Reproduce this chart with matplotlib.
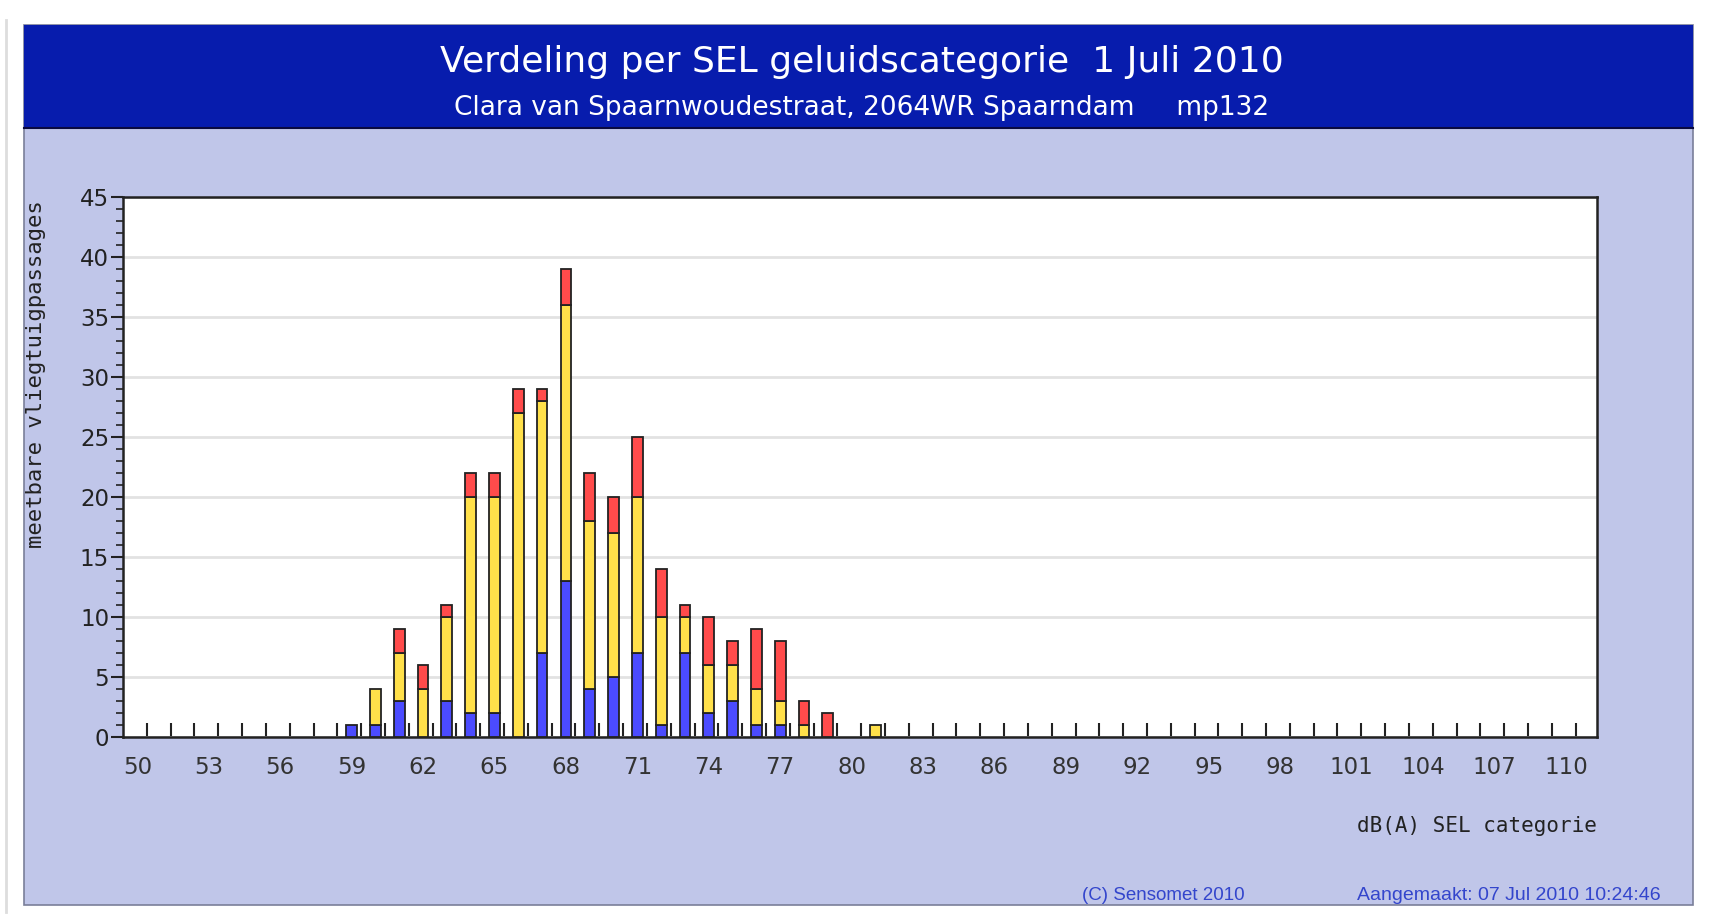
import matplotlib
matplotlib.use("Agg")
import matplotlib.pyplot as plt
from matplotlib.patches import Rectangle
import numpy as np

# ---- data ----
categories = list(range(50, 111))
blue_vals = {59: 1, 60: 1, 61: 3, 62: 0, 63: 3, 64: 2, 65: 2, 66: 0, 67: 7, 68: 13,
             69: 4, 70: 5, 71: 7, 72: 1, 73: 7, 74: 2, 75: 3, 76: 1, 77: 1, 78: 0,
             79: 0, 81: 0}
yellow_vals = {59: 0, 60: 3, 61: 4, 62: 4, 63: 7, 64: 18, 65: 18, 66: 27, 67: 21, 68: 23,
               69: 14, 70: 12, 71: 13, 72: 9, 73: 3, 74: 4, 75: 3, 76: 3, 77: 2, 78: 1,
               79: 0, 81: 1}
red_vals = {59: 0, 60: 0, 61: 2, 62: 2, 63: 1, 64: 2, 65: 2, 66: 2, 67: 1, 68: 3,
            69: 4, 70: 3, 71: 5, 72: 4, 73: 1, 74: 4, 75: 2, 76: 5, 77: 5, 78: 2,
            79: 2, 81: 0}
xtick_labels = [str(v) for v in range(50, 111, 3)]

title = "Verdeling per SEL geluidscategorie  1 Juli 2010"
subtitle = "Clara van Spaarnwoudestraat, 2064WR Spaarndam     mp132"
ylabel = "meetbare vliegtuigpassages"
xlabel = "dB(A) SEL categorie"
footer_left = "(C) Sensomet 2010"
footer_right = "Aangemaakt: 07 Jul 2010 10:24:46"

blue = np.array([blue_vals.get(c, 0) for c in categories], dtype=float)
yellow = np.array([yellow_vals.get(c, 0) for c in categories], dtype=float)
red = np.array([red_vals.get(c, 0) for c in categories], dtype=float)
x = np.array(categories, dtype=float)

W, H = 1709, 917
fig = plt.figure(figsize=(W / 100, H / 100), dpi=100)
fig.patch.set_facecolor("white")

def fx(px):
    return px / W

def fy(py):
    return 1 - py / H

# background panel
panel_l, panel_t, panel_r, panel_b = 24, 25, 1693, 905
fig.patches.append(Rectangle((fx(panel_l), fy(panel_b)), fx(panel_r - panel_l), (panel_b - panel_t) / H,
                             transform=fig.transFigure, facecolor="#C0C6E9",
                             edgecolor="#7A7F99", linewidth=1.2, zorder=-3))
# title band
band_b = 128
fig.patches.append(Rectangle((fx(panel_l), fy(band_b)), fx(panel_r - panel_l), (band_b - panel_t) / H,
                             transform=fig.transFigure, facecolor="#071CAD",
                             edgecolor="none", zorder=-2))
fig.lines.append(plt.Line2D([fx(panel_l), fx(panel_r)], [fy(band_b), fy(band_b)],
                            transform=fig.transFigure, color="#0A0A40", linewidth=1.5, zorder=-1))
# left shadow line
fig.lines.append(plt.Line2D([fx(6), fx(6)], [fy(20), fy(912)], transform=fig.transFigure,
                            color="#DDDDDD", linewidth=2, zorder=-3))

fig.text(fx(862), fy(62), title, ha="center", va="center", color="white",
         fontsize=26, family="DejaVu Sans")
fig.text(fx(862), fy(108), subtitle, ha="center", va="center", color="white",
         fontsize=19, family="DejaVu Sans")

# axes
ax_l, ax_t, ax_r, ax_b = 123, 197, 1597, 737
ax = fig.add_axes([fx(ax_l), fy(ax_b), fx(ax_r - ax_l), (ax_b - ax_t) / H])
ax.set_zorder(5)
ax.set_facecolor("white")
ax.set_xlim(49.4, 111.3)
ax.set_ylim(0, 45)

bw = 0.45
ec = "#222222"
lw = 1.3
segments = [(blue, np.zeros_like(blue), "#4B4BFF"),
            (yellow, blue, "#FFE04A"),
            (red, blue + yellow, "#FF4B4B")]
for vals, base, col in segments:
    m = vals > 0
    ax.bar(x[m], vals[m], bottom=base[m], width=bw, color=col,
           edgecolor=ec, linewidth=lw, zorder=3)

# grid
ax.set_yticks(np.arange(0, 46, 5))
ax.set_yticks(np.arange(0, 46, 1), minor=True)
ax.yaxis.grid(True, which="major", color="#E2E2E2", linewidth=2, zorder=0)
ax.set_axisbelow(True)
ax.tick_params(axis="y", which="major", direction="out", length=9, width=1.5,
               labelsize=16.5, colors="#222222", pad=1)
ax.tick_params(axis="y", which="minor", direction="out", length=5, width=1.2, colors="#222222")

ax.set_xticks(np.arange(50, 111, 3))
ax.set_xticklabels(xtick_labels)
ax.set_xticks(np.array(categories) + 0.4, minor=True)
ax.tick_params(axis="x", which="major", length=0, labelsize=16.5, pad=14, labelcolor="#333333")
ax.tick_params(axis="x", which="minor", direction="in", length=10, width=1.5, colors="#222222")

for s in ax.spines.values():
    s.set_color("#222222")
    s.set_linewidth(1.8)

fig.text(fx(36), fy(374), ylabel, rotation=90, ha="center", va="center",
         fontsize=16, family="DejaVu Sans Mono", color="#222222")
fig.text(fx(1597), fy(826), xlabel, ha="right", va="center",
         fontsize=15, family="DejaVu Sans Mono", color="#222222")

fig.text(fx(1163), fy(896), footer_left, ha="center", va="center",
         fontsize=13.5, family=["Liberation Sans", "DejaVu Sans"], color="#3345CC")
fig.text(fx(1509), fy(896), footer_right, ha="center", va="center",
         fontsize=14, family=["Liberation Sans", "DejaVu Sans"], color="#3345CC")

fig.savefig("out.png", dpi=100, facecolor="white")
